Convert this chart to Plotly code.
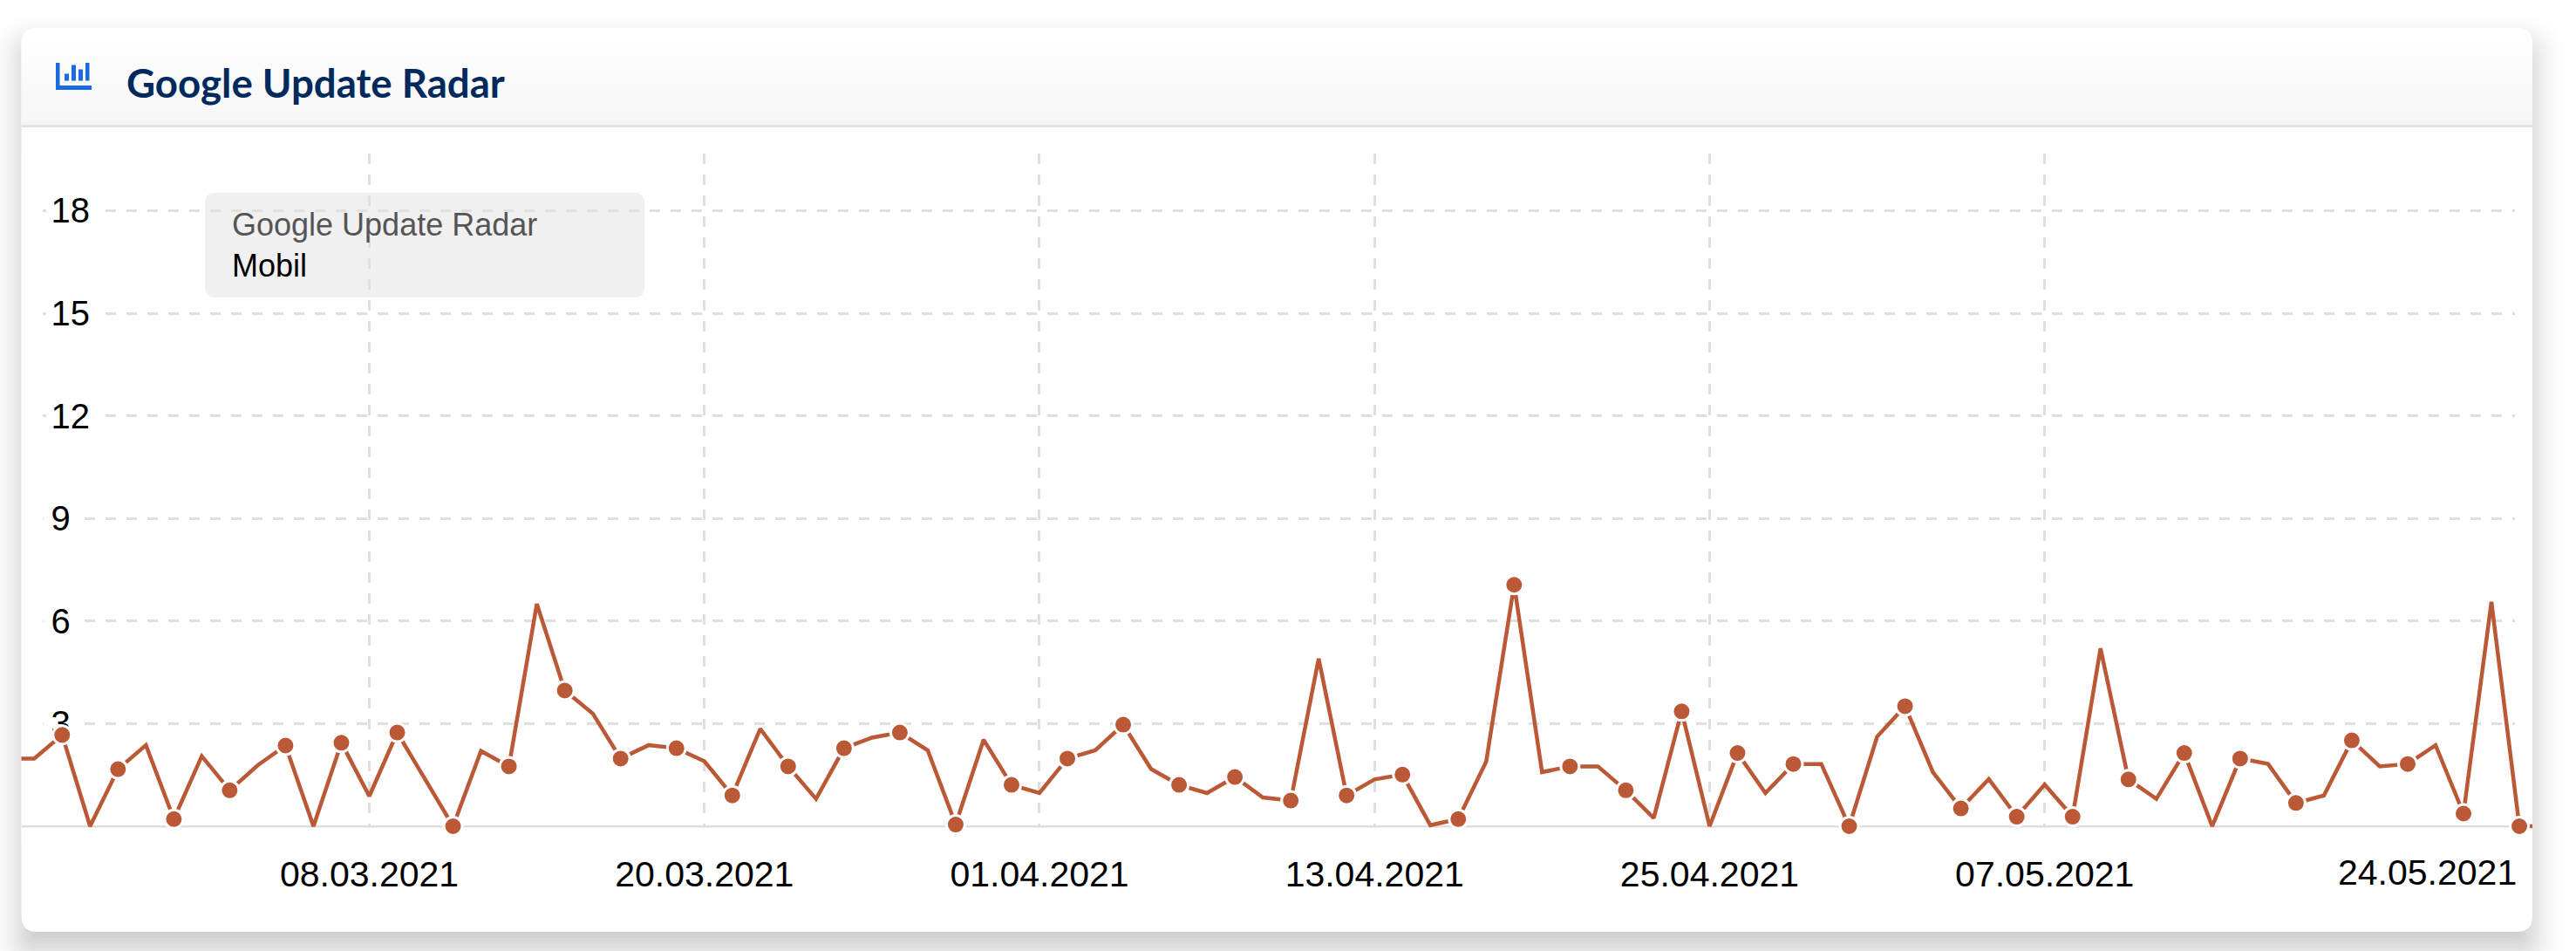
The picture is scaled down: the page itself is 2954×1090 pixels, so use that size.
from datetime import datetime, timedelta
import math
import plotly.graph_objects as go

TITLE = "Google Update Radar"
SERIES_NAME = "Mobil"

# daily values, 23.02.2021 ... 25.05.2021
start_date = "2021-02-23"
values = [
    1.98, 1.98, 2.67, 0.00, 1.67, 2.37, 0.21, 2.05, 1.05, 1.78, 2.36, 0.00, 2.44,
    0.88, 2.74, 1.39, 0.00, 2.20, 1.75, 6.50, 3.97, 3.30, 1.98, 2.37, 2.28,
    1.90, 0.90, 2.85, 1.75, 0.80, 2.28, 2.59, 2.74, 2.22, 0.05, 2.53, 1.21,
    0.97, 1.98, 2.22, 2.97, 1.67, 1.21, 0.97, 1.44, 0.84, 0.75, 4.90, 0.90,
    1.37, 1.51, 0.03, 0.21, 1.89, 7.06, 1.58, 1.75, 1.75, 1.05, 0.24, 3.36,
    0.00, 2.14, 0.97, 1.82, 1.82, 0.00, 2.62, 3.51, 1.58, 0.52, 1.38, 0.28,
    1.22, 0.28, 5.20, 1.37, 0.80, 2.14, 0.00, 1.98, 1.82, 0.68, 0.90, 2.51,
    1.75, 1.82, 2.37, 0.37, 6.56, 0.00, 0.00,
]
x_tick_dates = ["2021-03-08", "2021-03-20", "2021-04-01", "2021-04-13",
                "2021-04-25", "2021-05-07", "2021-05-24"]
x_tick_labels = ["08.03.2021", "20.03.2021", "01.04.2021", "13.04.2021",
                 "25.04.2021", "07.05.2021", "24.05.2021"]
y_ticks = [3, 6, 9, 12, 15, 18]

W, H = 2954, 1090
CARD = (24.5, 32, 2904, 1068)
PLOT_TOP, PLOT_BOTTOM = 176, 966
ZERO_PX, PX_PER_UNIT = 947, 39.2
DAY0_PX, PX_PER_DAY = 423.5, 32.02
LINE = "#bb5836"
GRID = "#dfdfdf"
X_FONT = dict(family="Liberation Sans", size=41, color="#000000")
Y_FONT = dict(family="Liberation Sans", size=40, color="#000000")

t0 = datetime.fromisoformat(start_date)
dates = [t0 + timedelta(days=i) for i in range(len(values))]


def px_x(px):
    return (datetime(2021, 3, 8) + timedelta(days=(px - DAY0_PX) / PX_PER_DAY)).isoformat()


def px_y(px):
    return (ZERO_PX - px) / PX_PER_UNIT


def fx(px):
    return px / W


def fy(px):
    return 1 - px / H


def rounded(x0, y0, x1, y1, r):
    r = max(r, 0.1)
    p = [
        (x0 + r, y0), (x1 - r, y0), (x1, y0), (x1, y0 + r), (x1, y1 - r), (x1, y1),
        (x1 - r, y1), (x0 + r, y1), (x0, y1), (x0, y1 - r), (x0, y0 + r), (x0, y0), (x0 + r, y0),
    ]
    c = [f"{fx(a):.6f},{fy(b):.6f}" for a, b in p]
    return (f"M{c[0]} L{c[1]} Q{c[2]} {c[3]} L{c[4]} Q{c[5]} {c[6]} L{c[7]} "
            f"Q{c[8]} {c[9]} L{c[10]} Q{c[11]} {c[12]} Z")


def pshape(path, fill, layer="below", opacity=1):
    return dict(type="path", path=path, xref="paper", yref="paper", fillcolor=fill,
                line=dict(width=0), layer=layer, opacity=opacity)


def prect(x0, y0, x1, y1, fill, layer="below"):
    return dict(type="rect", xref="paper", yref="paper", x0=fx(x0), x1=fx(x1), y0=fy(y0), y1=fy(y1),
                fillcolor=fill, line=dict(width=0), layer=layer)


def drect(x0, y0, x1, y1):
    """White mask between the gridlines and the traces."""
    return dict(type="rect", xref="x", yref="y", x0=px_x(x0), x1=px_x(x1), y0=y0, y1=y1,
                fillcolor="white", line=dict(width=0), layer="between")


shapes = []

# soft box shadow of the card
sigma, offset, strength, steps = 20, 20, 0.24, 30
for k in range(steps):
    s = 55 - 110 * (k + 0.5) / steps
    weight = math.exp(-s * s / (2 * sigma * sigma)) / (sigma * math.sqrt(2 * math.pi)) * (110 / steps)
    shapes.append(pshape(
        rounded(CARD[0] - s, CARD[1] - s + offset, CARD[2] + s, CARD[3] + s + offset, max(18 + s, 4)),
        f"rgba(0,0,0,{strength * weight:.5f})"))

# card
shapes.append(pshape(rounded(*CARD, 18), "#ffffff"))

# header gradient
for i in range(28):
    y0 = 48 + i * 3.4
    shade = round(255 - 10 * (y0 - 32) / 112)
    shapes.append(prect(CARD[0], y0, CARD[2], y0 + 3.5, f"rgb({shade},{shade},{shade})"))
shapes.append(prect(CARD[0], 143, CARD[2], 146, "#e2e2e2"))

# header icon
ICON = "#1a6be0"
for box in [(64, 72, 68.5, 103), (64, 98, 105, 103), (74, 84.5, 79, 92.5),
            (82, 74.5, 87, 92.5), (90, 79.5, 95, 92.5), (98, 72, 102.5, 92.5)]:
    shapes.append(prect(*box, ICON))

# mask gridlines: below the zero line, at both ends and behind the y labels
shapes.append(drect(CARD[0], -0.6, CARD[2], -0.04))
shapes.append(drect(CARD[0], 0.1, 40, 19.7))
shapes.append(drect(2884, 0.1, CARD[2], 19.7))
for v in y_ticks:
    shapes.append(drect(50 if v < 10 else 53, v - 0.4, 86 if v < 10 else 111, v + 0.4))

# legend box
shapes.append(pshape(rounded(235, 221, 739, 341, 12), "rgba(225,225,225,0.5)", layer="above"))

annotations = [
    dict(text=f"<b>{TITLE}</b>", xref="paper", yref="paper", x=fx(143), y=fy(94), xanchor="left",
         yanchor="middle", showarrow=False, font=dict(family="Lato", size=45.6, color="#002a5e")),
    dict(text=TITLE, xref="paper", yref="paper", x=fx(263.5), y=fy(257), xanchor="left",
         yanchor="middle", showarrow=False, font=dict(family="Liberation Sans", size=36, color="#555555")),
    dict(text=SERIES_NAME, xref="paper", yref="paper", x=fx(263.5), y=fy(304), xanchor="left",
         yanchor="middle", showarrow=False, font=dict(family="Liberation Sans", size=36, color="#000000")),
    # the last date label is pushed left so that it stays inside the card
    dict(text=x_tick_labels[-1], x=x_tick_dates[-1], xref="x", yref="paper", y=fy(1000), xanchor="right",
         yanchor="middle", xshift=-1, showarrow=False, font=X_FONT),
]

fig = go.Figure()
fig.add_trace(go.Scatter(x=dates, y=values, mode="lines", name=SERIES_NAME,
                         line=dict(color=LINE, width=4.5), hoverinfo="skip"))
fig.add_trace(go.Scatter(x=dates[2::2], y=values[2::2], mode="markers", name=SERIES_NAME,
                         marker=dict(color=LINE, size=21, line=dict(color="white", width=3))))

fig.update_layout(
    width=W, height=H, margin=dict(l=0, r=0, t=0, b=0), autosize=False, showlegend=False,
    paper_bgcolor="#ffffff", plot_bgcolor="rgba(0,0,0,0)",
    font=Y_FONT,
    shapes=shapes, annotations=annotations,
    xaxis=dict(
        type="date", domain=[fx(CARD[0]), fx(CARD[2])], range=[px_x(CARD[0]), px_x(CARD[2])],
        tickmode="array", tickvals=x_tick_dates, ticktext=x_tick_labels[:-1] + [""],
        showgrid=True, gridcolor=GRID, gridwidth=3, griddash="12px,12px", zeroline=False,
        showline=False, ticks="", ticklabelstandoff=8, layer="below traces",
        tickfont=X_FONT,
    ),
    yaxis=dict(
        domain=[fy(PLOT_BOTTOM), fy(PLOT_TOP)], range=[px_y(PLOT_BOTTOM), px_y(PLOT_TOP)],
        tickmode="array", tickvals=y_ticks, ticktext=[str(v) for v in y_ticks],
        showgrid=True, gridcolor=GRID, gridwidth=3, griddash="12px,12px",
        zeroline=True, zerolinecolor="#dddddd", zerolinewidth=3,
        showline=False, ticks="", ticklabelposition="inside", ticklabelstandoff=31, layer="below traces",
        tickfont=Y_FONT,
    ),
)

fig.write_html("out.html", config={"responsive": False, "displayModeBar": False},
               post_script="document.body.style.margin='0';document.body.style.overflow='hidden';")
